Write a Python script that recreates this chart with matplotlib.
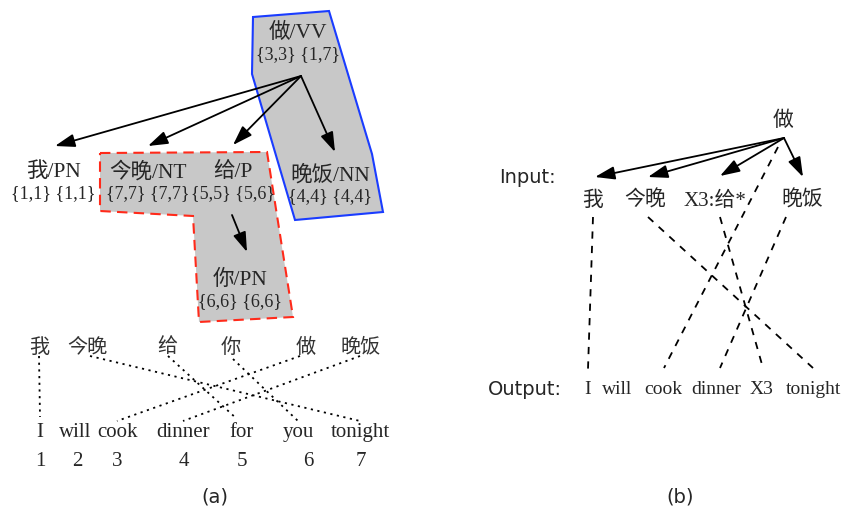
import matplotlib
matplotlib.use("Agg")
import matplotlib.pyplot as plt
from matplotlib.patches import Polygon, FancyArrowPatch

# ---------------- data ----------------
# panel (a) dependency-tree nodes
a_words = ["做/VV", "我/PN", "今晚/NT", "给/P", "晚饭/NN", "你/PN"]
a_spans = ["{3,3} {1,7}", "{1,1} {1,1}", "{7,7} {7,7}", "{5,5} {5,6}", "{4,4} {4,4}", "{6,6} {6,6}"]
a_node_x = [298, 53, 148, 233, 330, 240]
a_node_y = [33, 172, 172, 172, 175, 280]
# arrows (start, end) in panel (a)
a_arrows = [((301, 77), (55, 147)), ((301, 77), (148, 147)), ((301, 77), (233, 146)),
            ((301, 77), (335, 153)), ((232, 216), (247, 253))]
# regions
blue_poly = [(253, 18), (329, 12), (372, 155), (383, 213), (295, 221), (252, 75)]
red_poly = [(100, 154), (267, 153), (293, 318), (199, 323), (193, 217), (100, 212)]

# panel (a) word alignment
src_words = ["我", "今晚", "给", "你", "做", "晚饭"]
src_x = [39, 87, 167, 231, 306, 361]
tgt_words = ["I", "will", "cook", "dinner", "for", "you", "tonight"]
tgt_x = [40, 75, 117, 183, 242, 298, 360]
tgt_index = ["1", "2", "3", "4", "5", "6", "7"]
idx_x = [40, 77, 117, 184, 242, 308, 361]
a_align = [((39, 357), (40, 418)), ((90, 357), (360, 422)), ((168, 357), (237, 420)),
           ((233, 360), (298, 422)), ((300, 357), (117, 422)), ((360, 357), (183, 422))]

# panel (b)
b_head = "做"
b_in_words = ["我", "今晚", "X3:给*", "晚饭"]
b_in_x = [593, 645, 715, 802]
b_out_words = ["I", "will", "cook", "dinner", "X3", "tonight"]
b_out_x = [588, 617, 663, 716, 762, 813]
b_arrows = [((784, 139), (595, 178)), ((784, 139), (648, 178)),
            ((784, 139), (720, 177)), ((784, 139), (803, 178))]
b_align = [((593, 218), (588, 370)), ((648, 218), (813, 369)), ((720, 218), (763, 369)),
           ((786, 218), (720, 369)), ((778, 148), (664, 369))]

# ---------------- drawing ----------------
SERIF = ["Liberation Serif", "Noto Sans CJK SC", "DejaVu Sans"]
SANS = ["DejaVu Sans"]
TXT = "#262626"

fig = plt.figure(figsize=(8.42, 5.10), dpi=100)
ax = fig.add_axes([0, 0, 1, 1])
ax.set_xlim(0, 842)
ax.set_ylim(510, 0)
ax.axis("off")

ax.add_patch(Polygon(blue_poly, closed=True, facecolor="#c8c8c8", edgecolor="#1a3cff", lw=1.5, zorder=1))
ax.add_patch(Polygon(red_poly, closed=True, facecolor="#c8c8c8", edgecolor="#ff2a1a", lw=1.5,
                     linestyle=(0, (5, 3)), zorder=1))

def arrow(p0, p1):
    ax.add_patch(FancyArrowPatch(p0, p1, arrowstyle="-|>,head_length=0.6,head_width=0.2",
                                 mutation_scale=20, color="black", lw=1.3,
                                 shrinkA=0, shrinkB=0, zorder=3))

for w, s, x, y in zip(a_words, a_spans, a_node_x, a_node_y):
    ax.text(x, y, w, family=SERIF, fontsize=15.5, ha="center", va="center", color=TXT, zorder=4)
    ax.text(x, y + 22, s, family=SERIF, fontsize=13, ha="center", va="center", color=TXT, zorder=4)
for p0, p1 in a_arrows:
    arrow(p0, p1)

for w, x in zip(src_words, src_x):
    ax.text(x, 348, w, family=SERIF, fontsize=14.5, ha="center", va="center", color="#333333")
for w, x in zip(tgt_words, tgt_x):
    ax.text(x, 433, w, family=SERIF, fontsize=15, ha="center", va="center", color=TXT)
for w, x in zip(tgt_index, idx_x):
    ax.text(x, 462, w, family=SERIF, fontsize=15, ha="center", va="center", color=TXT)
for p0, p1 in a_align:
    ax.plot([p0[0], p1[0]], [p0[1], p1[1]], color="black", lw=1.3, linestyle=(0, (1.2, 2.5)))
ax.text(215, 497, "(a)", family=SANS, fontsize=14, ha="center", va="center", color=TXT)

ax.text(783, 121, b_head, family=SERIF, fontsize=15, ha="center", va="center", color=TXT)
for p0, p1 in b_arrows:
    arrow(p0, p1)
ax.text(499, 178, "Input:", family=SANS, fontsize=14, ha="left", va="center", color=TXT)
for w, x in zip(b_in_words, b_in_x):
    ax.text(x, 201, w, family=SERIF, fontsize=15, ha="center", va="center", color=TXT)
ax.text(488, 390, "Output:", family=SANS, fontsize=14, ha="left", va="center", color=TXT)
for w, x in zip(b_out_words, b_out_x):
    ax.text(x, 390, w, family=SERIF, fontsize=14, ha="center", va="center", color=TXT)
for p0, p1 in b_align:
    ax.plot([p0[0], p1[0]], [p0[1], p1[1]], color="black", lw=1.3, linestyle=(0, (4, 4)))
ax.text(680, 497, "(b)", family=SANS, fontsize=14, ha="center", va="center", color=TXT)

fig.savefig("out.png", dpi=100)
